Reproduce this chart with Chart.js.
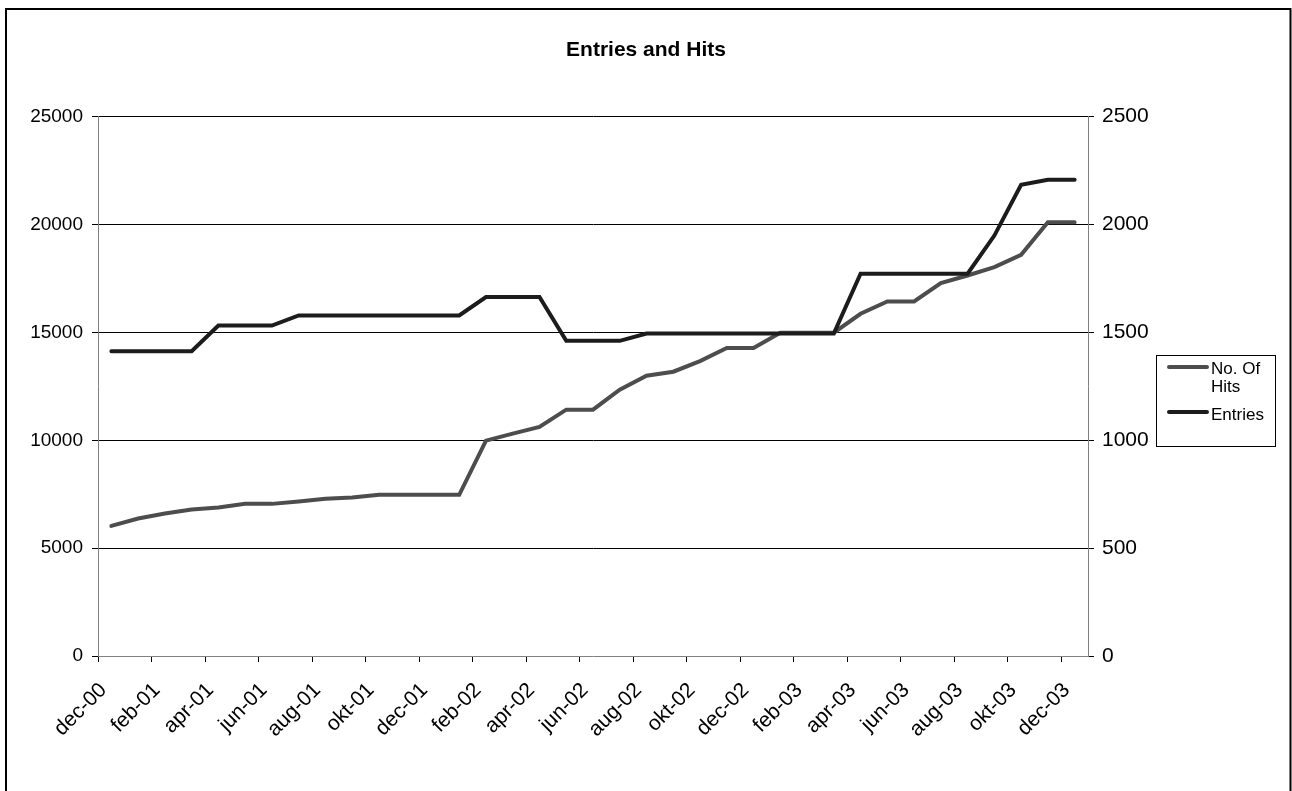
<!DOCTYPE html>
<html>
<head>
<meta charset="utf-8">
<title>Entries and Hits</title>
<script src="https://cdn.jsdelivr.net/npm/chart.js@4/dist/chart.umd.min.js"></script>
<style>
  html, body { margin: 0; padding: 0; background: #fff; }
  #wrap { position: relative; width: 1292px; height: 791px; }
</style>
</head>
<body>
<div id="wrap"><canvas id="chart" width="1292" height="791"></canvas></div>
<script>
// Monthly categories, Dec 2000 – Dec 2003
const months = [
  "dec-00",
  "jan-01", "feb-01", "mar-01", "apr-01", "maj-01", "jun-01",
  "jul-01", "aug-01", "sep-01", "okt-01", "nov-01", "dec-01",
  "jan-02", "feb-02", "mar-02", "apr-02", "maj-02", "jun-02",
  "jul-02", "aug-02", "sep-02", "okt-02", "nov-02", "dec-02",
  "jan-03", "feb-03", "mar-03", "apr-03", "maj-03", "jun-03",
  "jul-03", "aug-03", "sep-03", "okt-03", "nov-03", "dec-03"
];

// Cumulative number of hits (left axis)
const hits = [
  6030, 6375, 6606, 6790, 6884, 7052, 7052,
  7160, 7284, 7345, 7470, 7470, 7470,
  7470, 9985, 10310, 10617, 11420, 11420,
  12346, 12994, 13179, 13673, 14275, 14275,
  14985, 14985, 14985, 15865, 16435, 16435,
  17284, 17639, 18025, 18596, 20108, 20108
];

// Number of entries (right axis)
const entries = [
  1413, 1413, 1413, 1413, 1532, 1532, 1532,
  1579, 1579, 1579, 1579, 1579, 1579,
  1579, 1664, 1664, 1664, 1461, 1461,
  1461, 1495, 1495, 1495, 1495, 1495,
  1495, 1495, 1495, 1772, 1772, 1772,
  1772, 1772, 1949, 2184, 2208, 2208
];

const leftTicks = [0, 5000, 10000, 15000, 20000, 25000];
const rightTicks = [0, 500, 1000, 1500, 2000, 2500];

const seriesNames = ["No. Of Hits", "Entries"];
const legendLines = [["No. Of", "Hits"], ["Entries"]];

const FONT = '"Liberation Sans", Arial, Helvetica, sans-serif';

// Frame around the whole chart
const framePlugin = {
  id: 'frame',
  beforeDraw(chart) {
    const ctx = chart.ctx;
    ctx.save();
    ctx.fillStyle = '#fff';
    ctx.fillRect(0, 0, chart.width, chart.height);
    ctx.strokeStyle = '#000';
    ctx.lineWidth = 2;
    ctx.strokeRect(6, 9, 1284.5, 800);
    ctx.restore();
  }
};

// Boxed legend to the right of the plot
const boxLegendPlugin = {
  id: 'boxLegend',
  afterDraw(chart) {
    const ctx = chart.ctx;
    const x0 = 1156.5, y0 = 355.5, w = 119, h = 91;
    ctx.save();
    ctx.fillStyle = '#fff';
    ctx.fillRect(x0, y0, w, h);
    ctx.strokeStyle = '#000';
    ctx.lineWidth = 1;
    ctx.strokeRect(x0, y0, w, h);
    ctx.font = '17px ' + FONT;
    ctx.textBaseline = 'middle';
    ctx.textAlign = 'left';
    ctx.fillStyle = '#000';
    const rows = [
      { line: 367, text: [369, 387] },
      { line: 412, text: [415] }
    ];
    chart.data.datasets.forEach((ds, i) => {
      const r = rows[i];
      ctx.strokeStyle = ds.borderColor;
      ctx.lineWidth = 4;
      ctx.lineCap = 'round';
      ctx.beginPath();
      ctx.moveTo(1169, r.line);
      ctx.lineTo(1207, r.line);
      ctx.stroke();
      legendLines[i].forEach((t, j) => ctx.fillText(t, 1211, r.text[j]));
    });
    ctx.restore();
  }
};

new Chart(document.getElementById('chart'), {
  type: 'line',
  data: {
    labels: months,
    datasets: [
      {
        label: seriesNames[0],
        data: hits,
        yAxisID: 'y',
        borderColor: '#4d4d4d',
        borderWidth: 4,
        pointRadius: 0,
        tension: 0,
        borderCapStyle: 'round',
        order: 1
      },
      {
        label: seriesNames[1],
        data: entries,
        yAxisID: 'y1',
        borderColor: '#1c1c1c',
        borderWidth: 4,
        pointRadius: 0,
        tension: 0,
        borderCapStyle: 'round',
        order: 0
      }
    ]
  },
  options: {
    responsive: false,
    devicePixelRatio: 1,
    animation: false,
    events: [],
    layout: { padding: 0 },
    plugins: {
      legend: { display: false },
      tooltip: { enabled: false },
      title: {
        display: true,
        text: 'Entries and Hits',
        color: '#000',
        font: { family: FONT, size: 21, weight: 'bold', lineHeight: 1.2 },
        padding: { top: 38, bottom: 53.5 }
      }
    },
    scales: {
      x: {
        type: 'category',
        offset: true,
        afterFit(scale) { scale.height = 135; },
        border: { display: true, color: '#808080', width: 1 },
        grid: {
          offset: true,
          drawOnChartArea: false,
          drawTicks: true,
          tickLength: 6,
          tickColor: (c) => (c.index % 2 === 0 ? '#000' : 'rgba(0,0,0,0)')
        },
        ticks: {
          autoSkip: false,
          maxRotation: 45,
          minRotation: 45,
          padding: 16,
          labelOffset: -8,
          color: '#000',
          font: { family: FONT, size: 21 },
          callback(value, index) {
            return index % 2 === 0 ? this.getLabelForValue(value) : '';
          }
        }
      },
      y: {
        position: 'left',
        min: leftTicks[0],
        max: leftTicks[leftTicks.length - 1],
        afterFit(scale) { scale.width = 98; },
        afterBuildTicks(scale) { scale.ticks = leftTicks.map(v => ({ value: v })); },
        border: { display: true, color: '#808080', width: 1 },
        grid: {
          color: (c) => (c.tick && c.tick.value === 0 ? 'rgba(0,0,0,0)' : '#000'),
          lineWidth: 1,
          drawTicks: true,
          tickLength: 6,
          tickColor: '#000'
        },
        ticks: {
          padding: 9,
          color: '#000',
          font: { family: FONT, size: 19 },
          callback: (v) => String(v)
        }
      },
      y1: {
        position: 'right',
        min: rightTicks[0],
        max: rightTicks[rightTicks.length - 1],
        afterFit(scale) { scale.width = 204; },
        afterBuildTicks(scale) { scale.ticks = rightTicks.map(v => ({ value: v })); },
        border: { display: true, color: '#808080', width: 1 },
        grid: {
          drawOnChartArea: false,
          drawTicks: true,
          tickLength: 6,
          tickColor: '#000'
        },
        ticks: {
          padding: 8,
          color: '#000',
          font: { family: FONT, size: 21 },
          callback: (v) => String(v)
        }
      }
    }
  },
  plugins: [framePlugin, boxLegendPlugin]
});
</script>
</body>
</html>
